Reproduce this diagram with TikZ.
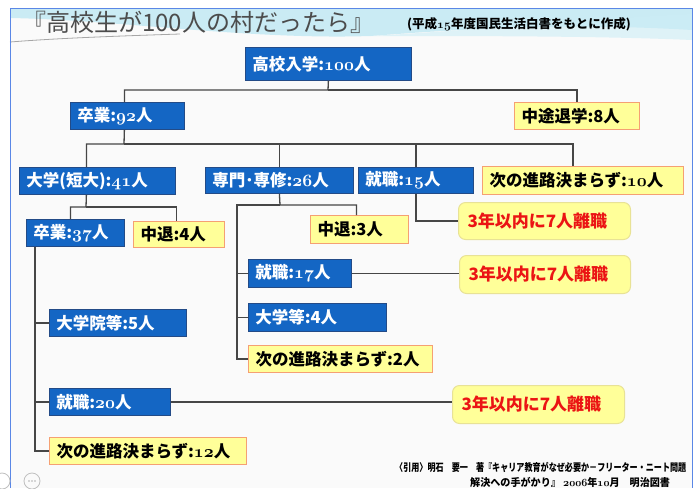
\documentclass[tikz,border=0pt]{standalone}
\usepackage{fontspec}
\newfontfamily\jp{Noto Sans CJK JP}
\newcommand\os[1]{\mbox{\boldmath$\mathnormal{#1}$}}
\definecolor{blueF}{RGB}{20,102,196}
\definecolor{blueD}{RGB}{35,75,135}
\definecolor{yelF}{RGB}{255,255,153}
\definecolor{orangeB}{RGB}{245,160,115}
\definecolor{yelB}{RGB}{232,226,150}
\definecolor{redT}{RGB}{235,20,20}
\definecolor{linec}{RGB}{70,70,70}
\definecolor{frameC}{RGB}{90,135,230}
\definecolor{waveC}{RGB}{170,225,240}
\begin{document}
\begin{tikzpicture}[x=1pt,y=-1pt,
  conn/.style={draw=linec, line width=1.3pt},
  boxbase/.style={anchor=north west, inner xsep=7pt, inner ysep=0pt, align=left,
    font=\jp\bfseries\fontsize{16.5}{16.5}\selectfont},
  bluebox/.style={boxbase, draw=blueD, fill=blueF, text=white, line width=0.8pt},
  yelbox/.style={boxbase, draw=orangeB, fill=yelF, text=black, line width=1pt},
  redbox/.style={boxbase, font=\jp\bfseries\fontsize{17}{17}\selectfont, inner xsep=9pt, draw=yelB, fill=yelF, text=redT, line width=1pt, rounded corners=7pt}
]
\useasboundingbox (0,0) rectangle (698,488);
\fill[white] (0,0) rectangle (698,488);
% slide
\fill[black!2] (10,8) rectangle (692,488);
\fill[waveC, opacity=0.6] (10,8) -- (692,8) -- (692,30) .. controls (560,22) and (450,30) .. (370,36) .. controls (250,40) and (120,20) .. (10,18) -- cycle;
\fill[waveC!60, opacity=0.6] (370,36) .. controls (480,30) and (600,18) .. (692,14) -- (692,40) .. controls (600,36) and (480,36) .. (370,36) -- cycle;
\draw[black!35, line width=0.8pt] (10,42) .. controls (60,38) and (120,36) .. (180,34);
\draw[frameC, line width=1pt] (10,488) -- (10,8) -- (692,8) -- (692,488);
% title
\node[anchor=west, text=black!70, font=\jp\fontsize{24}{24}\selectfont, inner sep=0pt] (title) at (22,22) {『高校生が100人の村だったら』};
\node[anchor=west, font=\jp\bfseries\fontsize{12.5}{12.5}\selectfont, inner sep=0pt] (sub) at (407,24) {(平成\os{15}年度国民生活白書をもとに作成)};
% boxes
\node[bluebox, text width=152pt, minimum height=33pt] (top) at (245,47) {高校入学:\os{100}人};
\node[bluebox, text width=100pt, minimum height=27pt] (sotsu92) at (70,102) {卒業:\os{92}人};
\node[yelbox, text width=111pt, minimum height=27pt] (chuto8) at (514,102) {中途退学:8人};
\node[bluebox, text width=142pt, minimum height=27pt] (daigaku41) at (19,167) {大学(短大):\os{41}人};
\node[bluebox, text width=134pt, minimum height=26pt] (senmon26) at (205,167) {専門･専修:\os{26}人};
\node[bluebox, text width=101pt, minimum height=26pt] (shu15) at (358,167) {就職:\os{15}人};
\node[yelbox, text width=187pt, minimum height=28pt] (tsugi10) at (482,166) {次の進路決まらず:\os{10}人};
\node[bluebox, text width=84pt, minimum height=27pt] (sotsu37) at (26,219) {卒業:\os{37}人};
\node[yelbox, text width=77pt, minimum height=26pt] (chutai4) at (133,221) {中退:4人};
\node[yelbox, text width=84pt, minimum height=28pt] (chutai3) at (310,215) {中退:3人};
\node[redbox, text width=154pt, minimum height=37pt] (rishoku1) at (458,202) {3年以内に7人離職};
\node[bluebox, text width=89pt, minimum height=28pt] (shu17) at (248,259) {就職:\os{17}人};
\node[redbox, text width=153pt, minimum height=38pt] (rishoku2) at (459,255) {3年以内に7人離職};
\node[bluebox, text width=124pt, minimum height=28pt] (daigakuto4) at (248,303) {大学等:4人};
\node[yelbox, text width=170pt, minimum height=27pt] (tsugi2) at (248,345) {次の進路決まらず:2人};
\node[bluebox, text width=123pt, minimum height=27pt] (daigakuin5) at (49,309) {大学院等:5人};
\node[bluebox, text width=107pt, minimum height=27pt] (shu20) at (49,388) {就職:\os{20}人};
\node[redbox, text width=154pt, minimum height=38pt] (rishoku3) at (452,385) {3年以内に7人離職};
\node[yelbox, text width=183pt, minimum height=27pt] (tsugi12) at (49,437) {次の進路決まらず:\os{12}人};
% connectors
\coordinate (j1) at (328,90);
\draw[conn] (top.south) -- (j1) -| ([xshift=-3pt]sotsu92.north);
\draw[conn] (j1) -| (chuto8.north);
\coordinate (j2) at (124,144);
\draw[conn] ([xshift=-3pt]sotsu92.south) -- (j2) -| ([xshift=-11pt]daigaku41.north);
\draw[conn] (j2) -| ([xshift=-10pt]tsugi10.north);
\draw[conn] (senmon26.north) -- (senmon26.north |- j2);
\draw[conn] (shu15.north) -- (shu15.north |- j2);
\coordinate (j3) at (86,207);
\draw[conn] ([xshift=-11pt]daigaku41.south) -- (j3) -| ([xshift=-5pt]sotsu37.north);
\draw[conn] (j3) -| ([xshift=-2.5pt]chutai4.north);
\coordinate (j4) at (280,205);
\coordinate (r4) at (237,205);
\draw[conn] (senmon26.south) -- (j4) -| ([xshift=-3pt]chutai3.north);
\draw[conn] (j4) -- (r4) |- (tsugi2.west);
\draw[conn] (r4 |- shu17.west) -- (shu17.west);
\draw[conn] (r4 |- daigakuto4.west) -- (daigakuto4.west);
\draw[conn] (shu15.south) |- (rishoku1.west);
\draw[conn] (shu17.east) -- (shu17.east -| rishoku2.west);
\coordinate (r5) at ([xshift=9pt]sotsu37.south west);
\draw[conn] (r5) |- (tsugi12.west);
\draw[conn] (r5 |- daigakuin5.west) -- (daigakuin5.west);
\draw[conn] (r5 |- shu20.west) -- (shu20.west);
\draw[conn] (shu20.east) -- (shu20.east -| rishoku3.west);
% citation
\node[anchor=west, inner sep=0pt, font=\jp\bfseries\fontsize{10.5}{10.5}\selectfont] (cite1) at (395,467) {\scalebox{0.77}[1]{〈引用〉明石　要一　著『キャリア教育がなぜ必要か－フリーター・ニート問題}};
\node[anchor=west, inner sep=0pt, font=\jp\bfseries\fontsize{10.5}{10.5}\selectfont] (cite2) at (470,482) {\scalebox{0.96}[1]{解決への手がかり』 \os{2006}年\os{10}月　明治図書}};
% overlay icons
\draw[black!25, line width=0.8pt] (32,481) circle (8);
\draw[black!25, line width=0.8pt] (2,481) circle (8);
\fill[black!30] (29,481) circle (0.8) (32,481) circle (0.8) (35,481) circle (0.8);
\end{tikzpicture}
\end{document}
